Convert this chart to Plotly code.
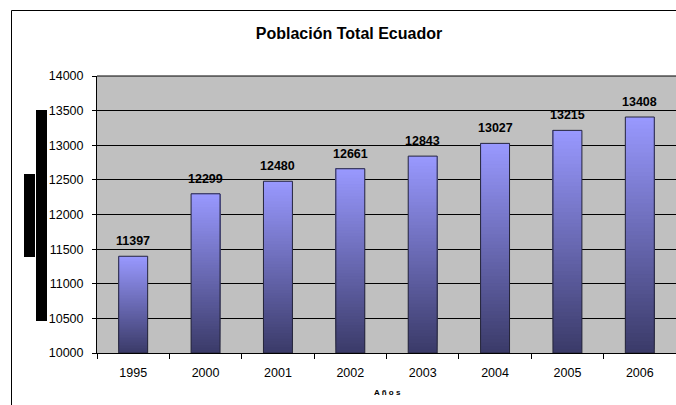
import plotly.graph_objects as go

# Population of Ecuador (thousands) by year
years = ["1995", "2000", "2001", "2002", "2003", "2004", "2005", "2006"]
population = [11397, 12299, 12480, 12661, 12843, 13027, 13215, 13408]

Y_MIN, Y_MAX = 10000, 14000
W, H = 676, 405
ML, MR, MT, MB = 97, 0, 76, 52
PW, PH = W - ML - MR, H - MT - MB

TOP_RGB = (153, 153, 255)
BOT_RGB = (58, 58, 104)
N_SEG = 60
FONT = "Liberation Sans, Arial"


def px_x(px):
    return (px - ML) / PW


def px_y(py):
    return (H - MB - py) / PH


def mix(t):
    r, g, b = (round(BOT_RGB[k] + (TOP_RGB[k] - BOT_RGB[k]) * t) for k in range(3))
    return f"rgb({r},{g},{b})"


fig = go.Figure()

# vertical gradient fill: overlapping bars, each starting a bit higher and lighter
for i in range(N_SEG):
    bases = [Y_MIN + (v - Y_MIN) * i / N_SEG for v in population]
    heights = [v - b for v, b in zip(population, bases)]
    fig.add_trace(go.Bar(
        x=years, y=heights, base=bases, width=0.4,
        marker=dict(color=mix((i + 0.5) / N_SEG), line=dict(width=0)),
        hoverinfo="skip", showlegend=False,
    ))

# outline of each bar
fig.add_trace(go.Bar(
    x=years, y=[v - Y_MIN for v in population], base=Y_MIN, width=0.4,
    marker=dict(color="rgba(0,0,0,0)", line=dict(color="#26263a", width=1)),
    showlegend=False,
))

# value labels above the bars (x given as category index)
value_labels = [
    dict(x=idx, y=v, xref="x", yref="y", text=f"<b>{v}</b>", showarrow=False,
         yanchor="middle", yshift=15, font=dict(size=12.5, color="black"))
    for idx, v in enumerate(population)
]

fig.update_layout(
    width=W, height=H,
    margin=dict(l=ML, r=MR, t=MT, b=MB),
    barmode="overlay",
    paper_bgcolor="white",
    plot_bgcolor="#c0c0c0",
    font=dict(family=FONT, size=12.5, color="black"),
    title=dict(
        text="<b>Población Total Ecuador</b>",
        font=dict(size=16, color="black"),
        x=349 / W, xanchor="center", xref="container",
        y=1 - 33 / H, yanchor="middle", yref="container",
    ),
    xaxis=dict(
        type="category", range=[-0.5, len(years) - 0.5],
        tickson="boundaries", ticks="outside", ticklen=5,
        tickcolor="black", showline=True, linecolor="black", linewidth=1,
        showgrid=False, tickfont=dict(size=12.5), ticklabelstandoff=8,
    ),
    yaxis=dict(
        range=[Y_MIN, Y_MAX], dtick=500, tickformat="d", ticks="outside",
        ticklen=4, tickcolor="black", showline=True, linecolor="black",
        linewidth=1, gridcolor="black", gridwidth=1, tickfont=dict(size=12.5),
        zeroline=False, ticklabelstandoff=6,
    ),
    annotations=value_labels + [dict(
        text="<b>A ñ o s</b>", x=px_x(387), y=px_y(392), xref="paper", yref="paper",
        showarrow=False, font=dict(size=8, color="black"),
        xanchor="center", yanchor="middle",
    )],
    shapes=[
        # outer chart frame (left and top edges)
        dict(type="line", xref="paper", yref="paper",
             x0=px_x(11.5), x1=px_x(11.5), y0=px_y(410), y1=px_y(10.5),
             line=dict(color="black", width=1)),
        dict(type="line", xref="paper", yref="paper",
             x0=px_x(11.5), x1=px_x(680), y0=px_y(10.5), y1=px_y(10.5),
             line=dict(color="black", width=1)),
        # top border of plot area
        dict(type="line", xref="paper", yref="paper",
             x0=0, x1=1, y0=1, y1=1, line=dict(color="black", width=1)),
        # black marks left of the value axis
        dict(type="rect", xref="paper", yref="paper",
             x0=px_x(36), x1=px_x(47), y0=px_y(321), y1=px_y(110),
             fillcolor="black", line=dict(width=0)),
        dict(type="rect", xref="paper", yref="paper",
             x0=px_x(24), x1=px_x(35), y0=px_y(257), y1=px_y(174),
             fillcolor="black", line=dict(width=0)),
    ],
)

fig.write_html("out.html")
